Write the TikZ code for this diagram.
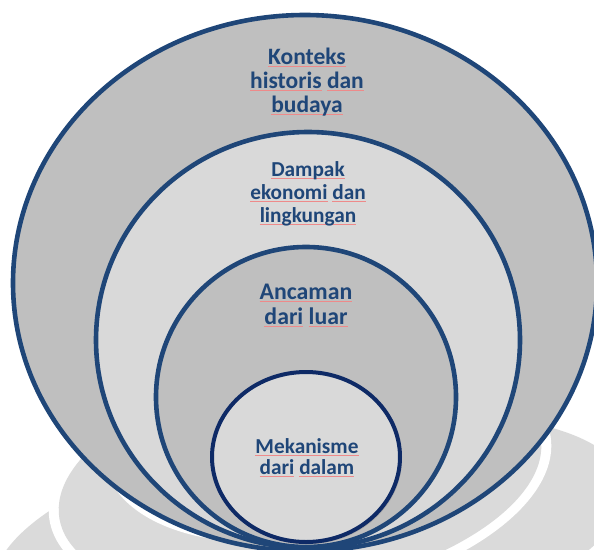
\documentclass[tikz,border=0pt]{standalone}
\usepackage{fontspec}
\setmainfont{Carlito}
\usetikzlibrary{shadows}

\definecolor{ringblue}{HTML}{1F4678}
\definecolor{coreblue}{HTML}{0E2A66}
\definecolor{darkfill}{HTML}{BFBFBF}
\definecolor{lightfill}{HTML}{D9D9D9}
\definecolor{markgray}{HTML}{DADADA}
\definecolor{spellred}{HTML}{EE8A8A}

% thin red mark under a word
\newsavebox\spellbox
\newcommand\spell[1]{\sbox\spellbox{#1}%
  \rlap{\textcolor{spellred}{\rule[-2.2pt]{\wd\spellbox}{0.6pt}}}\usebox\spellbox}

\begin{document}
\begin{tikzpicture}[x=1pt, y=-1pt,
  ring/.style={draw=ringblue, line width=4.6pt},
  ringtext/.style={text=ringblue, align=center, inner sep=0pt}]

  \useasboundingbox (0,0) rectangle (594,549);

  % faded mark behind the rings
  \begin{scope}[shift={(300,478)}, rotate=9.6]
    \fill[markgray] (0,60) ellipse [x radius=320, y radius=113];
    \fill[white] (0,0) ellipse [x radius=254, y radius=123];
    \fill[markgray] (0,0) ellipse [x radius=244, y radius=113];
    \fill[white] (0,-47.5) ellipse [x radius=190, y radius=108];
  \end{scope}

  % rings
  \path[ring, fill=darkfill] (305,283) ellipse [x radius=292, y radius=268];
  \path[ring, fill=lightfill] (308,340) ellipse [x radius=212, y radius=208];
  \path[ring, fill=darkfill] (306,397) ellipse [x radius=150, y radius=150];
  \path[draw=coreblue, line width=4pt, fill=lightfill,
    drop shadow={opacity=0.35, shadow xshift=2pt, shadow yshift=-2pt}]
    (306,457) ellipse [x radius=94, y radius=85];

  \node[ringtext, font=\bfseries\fontsize{23.5}{24.2}\selectfont] (context) at (307,82)
    {\spell{Konteks}\\ \spell{historis} \spell{dan}\\ \spell{budaya}};
  \node[ringtext, font=\bfseries\fontsize{21.3}{23}\selectfont] (impact) at (308,193.5)
    {\spell{Dampak}\\ \spell{ekonomi} \spell{dan}\\ \spell{lingkungan}};
  \node[ringtext, font=\bfseries\fontsize{23.8}{25}\selectfont] (threat) at (306,305)
    {\spell{Ancaman}\\ \spell{dari} \spell{luar}};
  \node[ringtext, font=\bfseries\fontsize{21.3}{21}\selectfont] (inner) at (307,458)
    {\spell{Mekanisme}\\ \spell{dari} \spell{dalam}};

\end{tikzpicture}
\end{document}
